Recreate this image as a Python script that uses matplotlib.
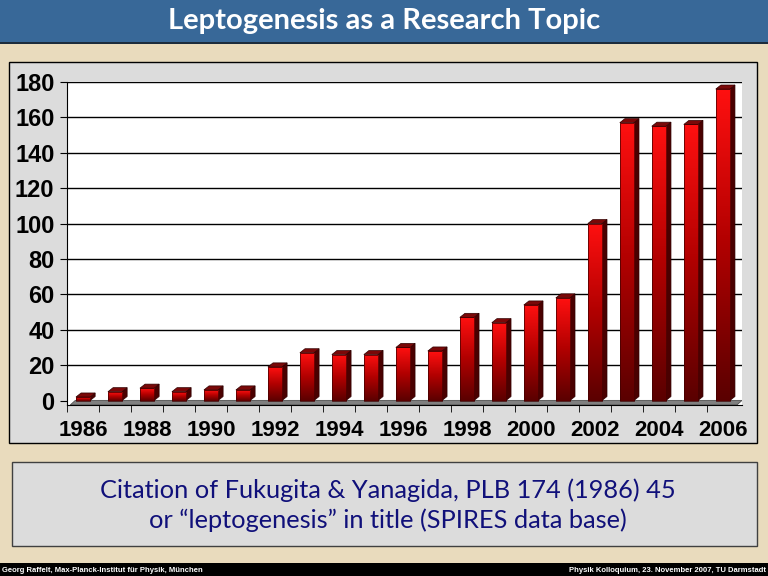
import matplotlib
matplotlib.use("Agg")
import matplotlib.pyplot as plt
import numpy as np
from matplotlib.patches import Rectangle, Polygon
from matplotlib.colors import LinearSegmentedColormap

# citations per year
years = list(range(1986, 2007))
counts = [2, 5, 7, 5, 6, 6, 19, 27, 26, 26, 30, 28, 47, 44, 54, 58, 100, 157, 155, 156, 176]
year_labels = [str(y) for y in range(1986, 2007, 2)]
y_ticks = list(range(0, 181, 20))

title = "Leptogenesis as a Research Topic"
caption = ("Citation of Fukugita & Yanagida, PLB 174 (1986) 45\n"
           "or \u201cleptogenesis\u201d in title (SPIRES data base)")
foot_left = "Georg Raffelt, Max-Planck-Institut f\u00fcr Physik, M\u00fcnchen"
foot_right = "Physik Kolloquium, 23. November 2007, TU Darmstadt"

W, H = 768, 576
fig = plt.figure(figsize=(W / 100, H / 100), dpi=100)
fig.patch.set_facecolor('#e9dbbd')

def fig_rect(x0, y0, x1, y1, **kw):
    # pixel box (top-left origin) -> figure rectangle, drawn under the axes
    r = Rectangle((x0 / W, 1 - y1 / H), (x1 - x0) / W, (y1 - y0) / H,
                  transform=fig.transFigure, zorder=-5, **kw)
    fig.add_artist(r)
    return r

# title band
fig_rect(0, 0, W, 42, facecolor='#386898', edgecolor='none')
fig_rect(0, 42, W, 44, facecolor='#1c2c3c', edgecolor='none')
fig.text(0.5, 1 - 21 / H, title, ha='center', va='center', color='white',
         fontsize=21, family='Lato', weight='bold')

# chart panel and caption box
fig_rect(9, 62, 757, 443, facecolor='#dcdcdc', edgecolor='black', lw=1)
fig_rect(12, 462, 757, 546, facecolor='#dcdcdc', edgecolor='#404040', lw=1)
fig.text(0.505, 1 - 505 / H, caption, ha='center', va='center', color='#10107a',
         fontsize=18.3, family='Lato', linespacing=1.3)

# footer
fig_rect(0, 563, W, H, facecolor='black', edgecolor='none')
fig.text(2 / W, 1 - 570 / H, foot_left, ha='left', va='center', color='white',
         fontsize=5.5, family='Liberation Sans', weight='bold')
fig.text(1 - 2 / W, 1 - 570 / H, foot_right, ha='right', va='center', color='white',
         fontsize=5.5, family='Liberation Sans', weight='bold')

# plot area
ax = fig.add_axes([67 / W, 1 - 405 / H, (742 - 67) / W, (405 - 82) / H])
ax.set_zorder(2)
ax.set_facecolor('white')

for v in y_ticks:
    if v > 0:
        ax.axhline(v, color='black', lw=1, zorder=1)

# 3d look: depth offsets in data units
dx, dy = 0.16, 2.3
bw = 0.44

# floor
floor = Polygon([(1985.6, -2.5), (2006.6 - dx, -2.5), (2006.6, -2.5 + dy + 0.3),
                 (1985.6 + dx, -2.5 + dy + 0.3)], closed=True,
                facecolor='#808080', edgecolor='#505050', lw=0.6, zorder=2)
ax.add_patch(floor)

bars = ax.bar(years, counts, width=bw, color='none', edgecolor='none', zorder=4)
cmap = LinearSegmentedColormap.from_list('redgrad', ['#5a0000', '#b00000', '#ff1010'])
grad = np.linspace(0, 1, 256).reshape(-1, 1)
for b, v in zip(bars, counts):
    x0 = b.get_x()
    x1 = x0 + b.get_width()
    im = ax.imshow(grad, cmap=cmap, aspect='auto', origin='lower',
                   extent=[x0, x1, 0, v], zorder=4)
    im.set_clip_path(b)
    side = Polygon([(x1, 0), (x1 + dx, dy), (x1 + dx, v + dy), (x1, v)], closed=True,
                   facecolor='#4a0000', edgecolor='#300000', lw=0.5, zorder=3)
    top = Polygon([(x0, v), (x0 + dx, v + dy), (x1 + dx, v + dy), (x1, v)], closed=True,
                  facecolor='#7a0808', edgecolor='#300000', lw=0.5, zorder=5)
    ax.add_patch(side)
    ax.add_patch(top)
    ax.add_patch(Rectangle((x0, 0), x1 - x0, v, facecolor='none',
                           edgecolor='#400000', lw=0.5, zorder=5))
ax.set_xlim(1985.6, 2006.6)
ax.set_ylim(-2.5, 180)

for s in ['top', 'right']:
    ax.spines[s].set_visible(False)
ax.spines['left'].set_color('black')
ax.spines['bottom'].set_color('black')

ax.set_yticks(y_ticks)
ax.set_yticklabels([str(v) for v in y_ticks])
ax.set_xticks(list(range(1986, 2007, 2)))
ax.set_xticklabels(year_labels)
ax.set_xticks([y + 0.5 for y in range(1985, 2006)], minor=True)
ax.tick_params(axis='x', which='major', length=0, pad=11)
ax.tick_params(axis='x', which='minor', length=5, direction='out', color='black')
ax.tick_params(axis='y', length=5, direction='out', pad=4)
for lbl in ax.get_yticklabels():
    lbl.set_family('Liberation Sans')
    lbl.set_weight('bold')
    lbl.set_fontsize(17)
for lbl in ax.get_xticklabels():
    lbl.set_family('Liberation Sans')
    lbl.set_weight('bold')
    lbl.set_fontsize(16)

fig.savefig('out.png', dpi=100, facecolor=fig.get_facecolor())
